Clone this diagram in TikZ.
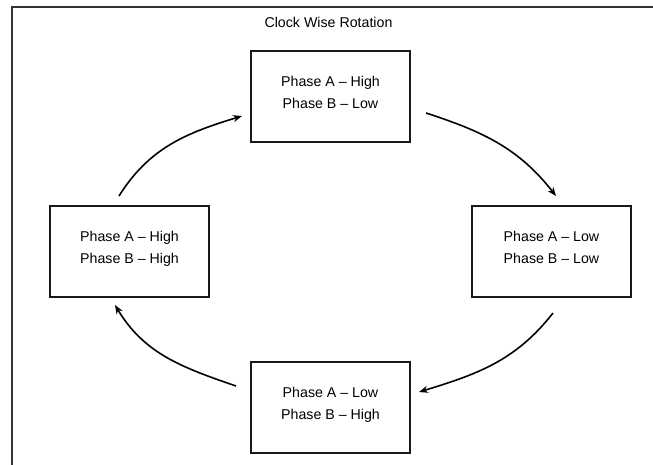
\documentclass[tikz,border=0pt]{standalone}
\usepackage{fontspec}
\setmainfont{Liberation Sans}
\usetikzlibrary{arrows.meta}
\begin{document}
\begin{tikzpicture}[x=1pt,y=1pt,
  phasebox/.style={draw=black!90, line width=2pt, minimum width=159pt, minimum height=91pt, inner sep=0pt},
  boxtext/.style={align=center, inner sep=0pt, font=\fontsize{14.2}{22}\selectfont, text=black},
  titletext/.style={inner sep=0pt, font=\fontsize{14.2}{17}\selectfont, text=black},
  frameline/.style={draw=black!80, line width=2pt},
  flow/.style={draw=black, line width=1.6pt, -{Stealth[length=9pt,width=7pt]}}]
\useasboundingbox (0,0) rectangle (653,-464);
\begin{scope}
  \clip (0,0) rectangle (653,-464);
  \draw[frameline] (11.7,-7.3) rectangle (720,-520);
\end{scope}
\node[titletext] (title) at (328.5,-22) {Clock Wise Rotation};
% boxes
\node[phasebox] (T) at (330.5,-96) {};
\node[phasebox] (L) at (129.5,-251.5) {};
\node[phasebox] (R) at (551.5,-251.5) {};
\node[phasebox] (B) at (330.5,-407.5) {};
% texts
\node[boxtext] (Tt) at ([yshift=4]T.center) {Phase A \textendash{} High\\Phase B \textendash{} Low};
\node[boxtext] (Lt) at ([yshift=3]L.center) {Phase A \textendash{} High\\Phase B \textendash{} High};
\node[boxtext] (Rt) at ([yshift=4]R.center) {Phase A \textendash{} Low\\Phase B \textendash{} Low};
\node[boxtext] (Bt) at ([yshift=3]B.center) {Phase A \textendash{} Low\\Phase B \textendash{} High};
% connector ends
\coordinate (a1s) at ([shift={(-10.5,9)}]L.north);
\coordinate (a1e) at ([shift={(-8,-20)}]T.west);
\coordinate (a2s) at ([shift={(15,-17)}]T.east);
\coordinate (a2e) at ([shift={(4.5,9)}]R.north);
\coordinate (a3s) at ([shift={(1.5,-15)}]R.south);
\coordinate (a3e) at ([shift={(8,15.5)}]B.east);
\coordinate (a4s) at ([shift={(-14,21.5)}]B.west);
\coordinate (a4e) at ([shift={(-14.5,-7)}]L.south);
% arrows
\draw[flow] (a1s) to[out=58,in=197] (a1e);
\draw[flow] (a2s) to[out=-18,in=128] (a2e);
\draw[flow] (a3s) to[out=232,in=17] (a3e);
\draw[flow] (a4s) to[out=161,in=-59] (a4e);
\end{tikzpicture}
\end{document}
